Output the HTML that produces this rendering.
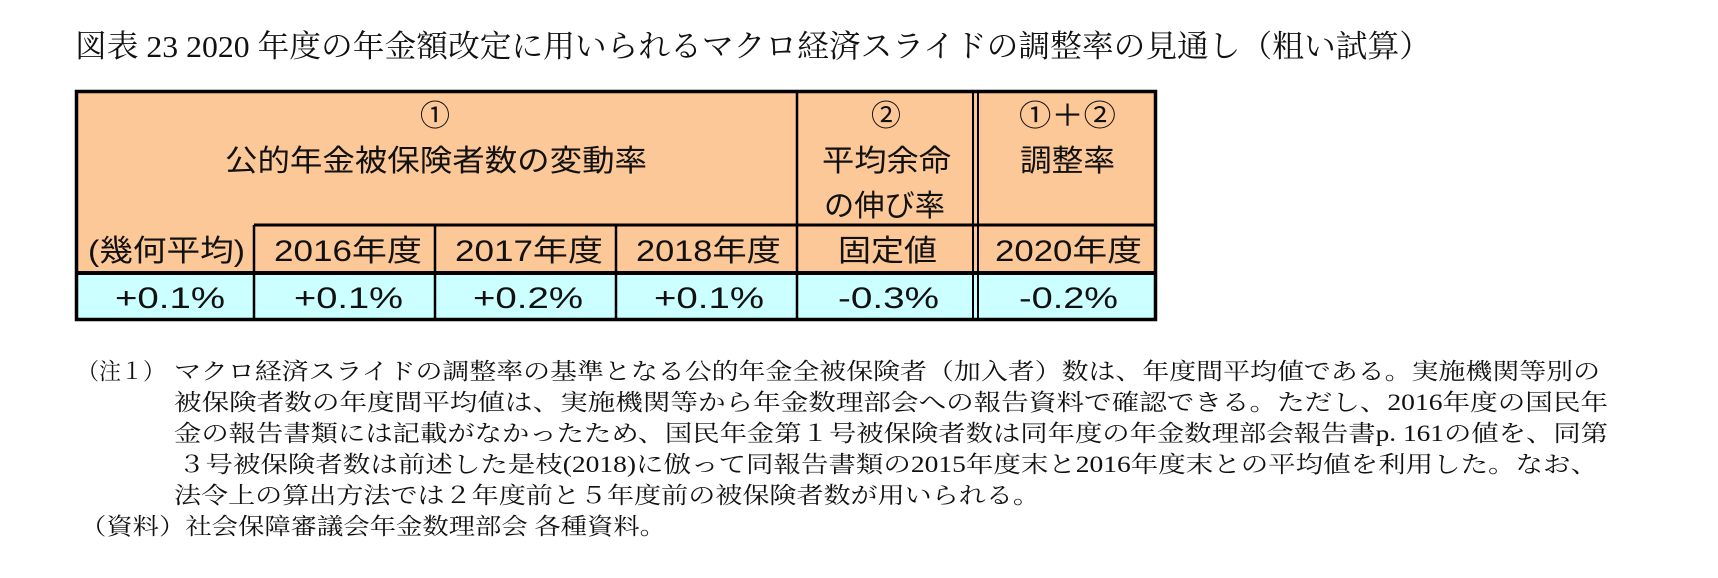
<!DOCTYPE html>
<html><head><meta charset="utf-8"><style>
html,body{margin:0;padding:0;background:#fff;}
svg{display:block;}
.t{font-family:"Liberation Serif","Noto Serif CJK SC",serif;fill:#111;}
.s{font-family:"Liberation Sans","Noto Sans CJK JP",sans-serif;fill:#111;font-size:30px;}
.n{font-family:"Liberation Serif","Noto Serif CJK SC",serif;fill:#111;font-size:23px;}
</style></head><body>
<svg width="1718" height="578" viewBox="0 0 1718 578">
<text class="t" x="75" y="57" font-size="31" textLength="1356" lengthAdjust="spacingAndGlyphs">図表 23  2020 年度の年金額改定に用いられるマクロ経済スライドの調整率の見通し（粗い試算）</text>

<g>
<rect x="75" y="90" width="1082" height="183" fill="#fdc898"/>
<rect x="75" y="273" width="1082" height="47" fill="#ccffff"/>
<g stroke="#000" fill="none">
<rect x="76.5" y="91.5" width="1079" height="228" stroke-width="3.5"/>
<line x1="254" y1="225" x2="1157" y2="225" stroke-width="3"/>
<line x1="75" y1="273" x2="1157" y2="273" stroke-width="4"/>
<line x1="254" y1="225" x2="254" y2="320" stroke-width="2.5"/>
<line x1="435" y1="225" x2="435" y2="320" stroke-width="2.5"/>
<line x1="616" y1="225" x2="616" y2="320" stroke-width="2.5"/>
<line x1="797" y1="90" x2="797" y2="320" stroke-width="2.5"/>
<line x1="973" y1="90" x2="973" y2="320" stroke-width="2"/>
<line x1="978" y1="90" x2="978" y2="320" stroke-width="2"/>
</g>
<text class="s" x="435" y="126" text-anchor="middle">①</text>
<text class="s" x="225" y="171" textLength="422" lengthAdjust="spacingAndGlyphs">公的年金被保険者数の変動率</text>
<text class="s" x="886" y="126" text-anchor="middle">②</text>
<text class="s" x="822" y="171" textLength="129" lengthAdjust="spacingAndGlyphs">平均余命</text>
<text class="s" x="824" y="216" textLength="121" lengthAdjust="spacingAndGlyphs">の伸び率</text>
<text class="s" x="1019" y="126" textLength="97" lengthAdjust="spacingAndGlyphs">①＋②</text>
<text class="s" x="1020" y="171" textLength="95" lengthAdjust="spacingAndGlyphs">調整率</text>

<text class="s" x="88" y="261" textLength="157" lengthAdjust="spacingAndGlyphs">(幾何平均)</text>
<text class="s" x="274" y="261" textLength="148" lengthAdjust="spacingAndGlyphs">2016年度</text>
<text class="s" x="455" y="261" textLength="148" lengthAdjust="spacingAndGlyphs">2017年度</text>
<text class="s" x="636" y="261" textLength="145" lengthAdjust="spacingAndGlyphs">2018年度</text>
<text class="s" x="838" y="261" textLength="99" lengthAdjust="spacingAndGlyphs">固定値</text>
<text class="s" x="995" y="261" textLength="147" lengthAdjust="spacingAndGlyphs">2020年度</text>

<text class="s" x="115" y="308" textLength="110" lengthAdjust="spacingAndGlyphs">+0.1%</text>
<text class="s" x="294" y="308" textLength="109" lengthAdjust="spacingAndGlyphs">+0.1%</text>
<text class="s" x="473" y="308" textLength="110" lengthAdjust="spacingAndGlyphs">+0.2%</text>
<text class="s" x="654" y="308" textLength="110" lengthAdjust="spacingAndGlyphs">+0.1%</text>
<text class="s" x="838" y="308" textLength="101" lengthAdjust="spacingAndGlyphs">-0.3%</text>
<text class="s" x="1019" y="308" textLength="99" lengthAdjust="spacingAndGlyphs">-0.2%</text>
</g>

<g>
<text class="n" x="77" y="379" textLength="88" lengthAdjust="spacingAndGlyphs">（注１）</text>
<text class="n" x="174" y="379" textLength="1426" lengthAdjust="spacingAndGlyphs">マクロ経済スライドの調整率の基準となる公的年金全被保険者（加入者）数は、年度間平均値である。実施機関等別の</text>
<text class="n" x="174" y="410" textLength="1434" lengthAdjust="spacingAndGlyphs">被保険者数の年度間平均値は、実施機関等から年金数理部会への報告資料で確認できる。ただし、2016年度の国民年</text>
<text class="n" x="174" y="441" textLength="1434" lengthAdjust="spacingAndGlyphs">金の報告書類には記載がなかったため、国民年金第１号被保険者数は同年度の年金数理部会報告書p. 161の値を、同第</text>
<text class="n" x="178" y="472" textLength="1420" lengthAdjust="spacingAndGlyphs">３号被保険者数は前述した是枝(2018)に倣って同報告書類の2015年度末と2016年度末との平均値を利用した。なお、</text>
<text class="n" x="174" y="503" textLength="866" lengthAdjust="spacingAndGlyphs">法令上の算出方法では２年度前と５年度前の被保険者数が用いられる。</text>
<text class="n" x="80" y="534" textLength="586" lengthAdjust="spacingAndGlyphs">（資料）社会保障審議会年金数理部会  各種資料。</text>
</g>
</svg>
</body></html>
